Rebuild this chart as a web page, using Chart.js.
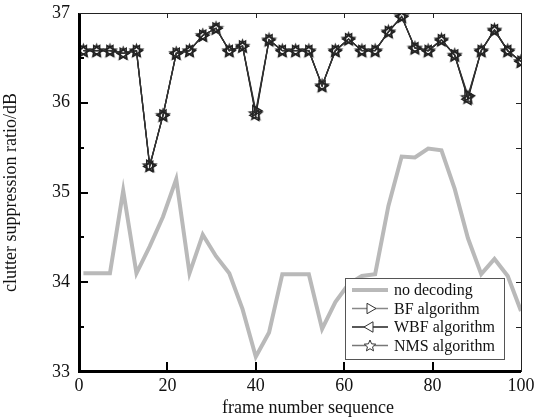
<!DOCTYPE html>
<html>
<head>
<meta charset="utf-8">
<script src="https://cdn.jsdelivr.net/npm/chart.js@4"></script>
<style>
  html, body { margin: 0; padding: 0; background: #fff; }
  #chart { display: block; }
</style>
</head>
<body>
<canvas id="chart" width="534" height="418"></canvas>
<script>
// frame numbers (every 3rd frame)
const frames = [1, 4, 7, 10, 13, 16, 19, 22, 25, 28, 31, 34, 37, 40, 43, 46, 49, 52,
  55, 58, 61, 64, 67, 70, 73, 76, 79, 82, 85, 88, 91, 94, 97, 100];

const noDecoding = [34.10, 34.10, 34.10, 35.02, 34.10, 34.40, 34.73, 35.15, 34.10, 34.53,
  34.29, 34.10, 33.70, 33.17, 33.44, 34.09, 34.09, 34.09, 33.48, 33.78, 33.98, 34.07,
  34.09, 34.85, 35.40, 35.39, 35.49, 35.47, 35.04, 34.49, 34.09, 34.26, 34.07, 33.68];

const bfAlg = [36.58, 36.58, 36.58, 36.55, 36.58, 35.30, 35.86, 36.55, 36.58, 36.75,
  36.83, 36.58, 36.63, 35.91, 36.70, 36.58, 36.58, 36.58, 36.19, 36.58, 36.71, 36.58,
  36.58, 36.79, 36.96, 36.61, 36.58, 36.70, 36.53, 36.08, 36.58, 36.81, 36.58, 36.46];

const wbfAlg = [36.58, 36.58, 36.58, 36.55, 36.58, 35.29, 35.86, 36.55, 36.58, 36.75,
  36.83, 36.58, 36.63, 35.86, 36.70, 36.58, 36.58, 36.58, 36.19, 36.58, 36.71, 36.58,
  36.58, 36.79, 36.96, 36.61, 36.58, 36.70, 36.53, 36.04, 36.58, 36.81, 36.58, 36.46];

const nmsAlg = [36.58, 36.58, 36.58, 36.55, 36.58, 35.30, 35.86, 36.55, 36.58, 36.75,
  36.83, 36.58, 36.63, 35.88, 36.70, 36.58, 36.58, 36.58, 36.19, 36.58, 36.71, 36.58,
  36.58, 36.79, 36.96, 36.61, 36.58, 36.70, 36.53, 36.06, 36.58, 36.81, 36.58, 36.46];

const xTicks = [0, 20, 40, 60, 80, 100];
const yTicks = [33, 34, 35, 36, 37];

const FONT = "'Liberation Serif', 'Times New Roman', serif";
const GRAY = '#b9b9b9';
const MARK = '#222222';

const toPoints = ys => frames.map((f, i) => ({ x: f, y: ys[i] }));

// five-pointed star marker as an image
function starPath(ctx, cx, cy, r) {
  ctx.beginPath();
  for (let i = 0; i < 10; i++) {
    const rr = i % 2 === 0 ? r : r * 0.45;
    const a = -Math.PI / 2 + i * Math.PI / 5;
    const px = cx + rr * Math.cos(a), py = cy + rr * Math.sin(a);
    if (i === 0) ctx.moveTo(px, py); else ctx.lineTo(px, py);
  }
  ctx.closePath();
}
function makeStar(r) {
  const c = document.createElement('canvas');
  c.width = c.height = Math.ceil(2 * r + 4);
  const g = c.getContext('2d');
  starPath(g, c.width / 2, c.height / 2 + 0.5, r);
  g.strokeStyle = MARK;
  g.lineWidth = 1.5;
  g.stroke();
  return c;
}
const starImg = makeStar(6.5);

function triPath(ctx, cx, cy, r, dir) {
  // dir 1 = pointing right, -1 = pointing left
  ctx.beginPath();
  ctx.moveTo(cx + dir * r, cy);
  ctx.lineTo(cx - dir * r * 0.5, cy - r * 0.87);
  ctx.lineTo(cx - dir * r * 0.5, cy + r * 0.87);
  ctx.closePath();
}

const frame = {
  id: 'frameAndLegend',
  afterDatasetsDraw(chart) {
    const { ctx, chartArea: a, scales: { x, y } } = chart;
    ctx.save();
    ctx.fillStyle = '#000';
    // thick left / bottom axes, thin top / right
    ctx.fillRect(a.left - 1, a.top, 3, a.bottom - a.top + 1);
    ctx.fillRect(a.left - 1, a.bottom - 2, a.right - a.left + 1, 3);
    ctx.fillStyle = '#222';
    ctx.fillRect(a.left, a.top, a.right - a.left + 1, 1);
    ctx.fillRect(a.right, a.top, 1, a.bottom - a.top);

    // x ticks
    [20, 40, 60, 80].forEach(v => {
      const px = Math.round(x.getPixelForValue(v));
      ctx.fillStyle = '#000';
      ctx.fillRect(px - 1, a.bottom - 10, 2, 10);
      ctx.fillStyle = '#222';
      ctx.fillRect(px, a.top, 1, 5);
    });
    // y ticks (major + minor)
    for (let v = 33.5; v < 37; v += 0.5) {
      const py = Math.round(y.getPixelForValue(v));
      const len = Number.isInteger(v) ? 9 : 5;
      ctx.fillStyle = '#000';
      ctx.fillRect(a.left, py - 1, len, 2);
      ctx.fillStyle = '#222';
      ctx.fillRect(a.right - 5, py, 5, 1);
    }

    // x axis title
    ctx.fillStyle = '#111';
    ctx.font = '18px ' + FONT;
    ctx.textAlign = 'center';
    ctx.textBaseline = 'middle';
    ctx.fillText('frame number sequence', (a.left + a.right) / 2 + 8, 408);

    // legend box
    const bx = 345, by = 278, bw = 159, bh = 81;
    ctx.fillStyle = '#fff';
    ctx.fillRect(bx, by, bw, bh);
    ctx.strokeStyle = '#555';
    ctx.lineWidth = 1;
    ctx.strokeRect(bx + 0.5, by + 0.5, bw, bh);

    const rows = [290, 308.5, 327, 345.5];
    const x0 = 352, x1 = 388, xm = 370;
    ctx.font = '16px ' + FONT;
    ctx.textAlign = 'left';
    chart.data.datasets.forEach((ds, i) => {
      const ry = rows[i];
      ctx.beginPath();
      ctx.moveTo(x0, ry);
      ctx.lineTo(x1, ry);
      ctx.strokeStyle = ds.legendLine;
      ctx.lineWidth = ds.borderWidth;
      ctx.stroke();
      ctx.lineWidth = 1;
      ctx.strokeStyle = '#333';
      if (ds.marker === 'right' || ds.marker === 'left') {
        triPath(ctx, xm, ry, 6, ds.marker === 'right' ? 1 : -1);
        ctx.fillStyle = '#fff';
        ctx.fill();
        ctx.stroke();
      } else if (ds.marker === 'star') {
        starPath(ctx, xm, ry + 0.5, 6);
        ctx.fillStyle = '#fff';
        ctx.fill();
        ctx.stroke();
      }
      ctx.fillStyle = '#111';
      ctx.fillText(ds.label, 394, ry + 1);
    });
    ctx.restore();
  }
};

new Chart(document.getElementById('chart'), {
  type: 'line',
  data: {
    datasets: [
      {
        label: 'no decoding',
        data: toPoints(noDecoding),
        borderColor: GRAY,
        legendLine: GRAY,
        borderWidth: 4,
        pointRadius: 0,
        tension: 0,
        borderJoinStyle: 'miter',
      },
      {
        label: 'BF algorithm',
        data: toPoints(bfAlg),
        marker: 'right',
        borderColor: '#333',
        legendLine: '#888',
        borderWidth: 1.3,
        pointStyle: 'triangle',
        rotation: 90,
        pointRadius: 6,
        pointBorderWidth: 1.5,
        pointBorderColor: MARK,
        pointBackgroundColor: 'rgba(0,0,0,0)',
      },
      {
        label: 'WBF algorithm',
        data: toPoints(wbfAlg),
        marker: 'left',
        borderColor: '#222',
        legendLine: '#222',
        borderWidth: 1.3,
        pointStyle: 'triangle',
        rotation: -90,
        pointRadius: 6,
        pointBorderWidth: 1.5,
        pointBorderColor: MARK,
        pointBackgroundColor: 'rgba(0,0,0,0)',
      },
      {
        label: 'NMS algorithm',
        data: toPoints(nmsAlg),
        marker: 'star',
        borderColor: '#222',
        legendLine: '#777',
        borderWidth: 1.3,
        pointStyle: starImg,
        pointRadius: 6,
      },
    ],
  },
  options: {
    responsive: false,
    animation: false,
    layout: { padding: { top: 13, right: 13, left: 0, bottom: 0 } },
    plugins: { legend: { display: false }, tooltip: { enabled: false } },
    scales: {
      x: {
        type: 'linear',
        min: 0,
        max: 100,
        afterBuildTicks(scale) { scale.ticks = xTicks.map(v => ({ value: v })); },
        afterFit(scale) { scale.height = 46; scale.paddingLeft = 0; scale.paddingRight = 0; },
        grid: { display: false, drawTicks: false },
        border: { display: false },
        ticks: { color: '#111', font: { family: FONT, size: 18 }, padding: 3, maxRotation: 0 },
      },
      y: {
        min: 33,
        max: 37,
        afterBuildTicks(scale) { scale.ticks = yTicks.map(v => ({ value: v })); },
        afterFit(scale) { scale.width = 79; scale.paddingTop = 0; scale.paddingBottom = 0; },
        grid: { display: false, drawTicks: false },
        border: { display: false },
        ticks: { color: '#111', font: { family: FONT, size: 18 }, padding: 9 },
        title: {
          display: true,
          text: 'clutter suppression ratio/dB',
          color: '#111',
          font: { family: FONT, size: 18 },
          padding: { top: 0, bottom: 0 },
        },
      },
    },
  },
  plugins: [frame],
});
</script>
</body>
</html>
